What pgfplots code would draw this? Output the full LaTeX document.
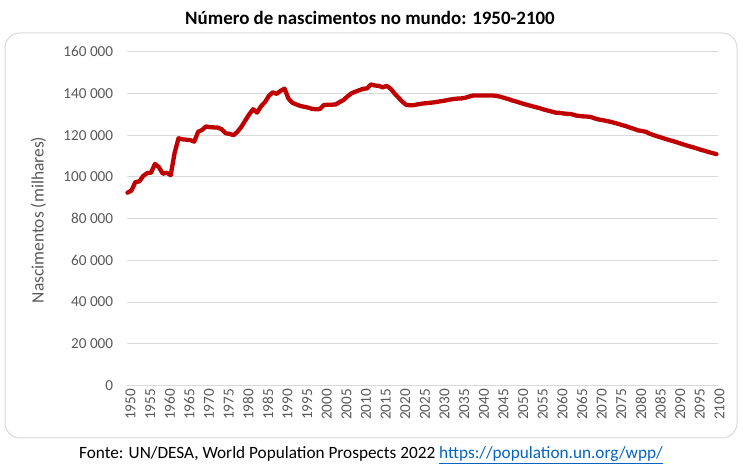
\documentclass[border=0pt]{standalone}
\usepackage{pgfplots}
\pgfplotsset{compat=1.18}
\usepackage{fontspec}
\setmainfont{Carlito}
\definecolor{linered}{HTML}{C00000}
\definecolor{gridgray}{HTML}{D9D9D9}
\definecolor{ticktxt}{HTML}{595959}
\definecolor{linkblue}{HTML}{0563C1}
\begin{document}
\begin{tikzpicture}[x=1bp,y=1bp]
\useasboundingbox (0,0) rectangle (743,469);
\draw[gridgray, line width=1bp, rounded corners=15bp] (5,31) rectangle (737,436);
\node[font=\fontsize{19}{22}\selectfont\bfseries] at (370,451) {Número de nascimentos no mundo: 1950-2100};
\node[font=\fontsize{17.3}{20}\selectfont] at (371,14) {Fonte: UN/DESA, World Population Prospects 2022 \textcolor{linkblue}{\underline{https://population.un.org/wpp/}}};
\node[font=\fontsize{17.5}{20}\selectfont, text=ticktxt, rotate=90] at (38.5,249) {Nascimentos (milhares)};
\begin{axis}[
  at={(126.7bp,83.5bp)}, anchor=south west,
  scale only axis, width=591.3bp, height=333.8bp,
  xmin=1949.8, xmax=2100.4, ymin=0, ymax=160000,
  ytick={0,20000,40000,60000,80000,100000,120000,140000,160000},
  yticklabels={0,20 000,40 000,60 000,80 000,100 000,120 000,140 000,160 000},
  xtick={1950,1955,...,2100},
  xticklabel={\pgfmathtruncatemacro\yr{\tick}\yr},
  axis line style={draw=none},
  major tick length=0pt,
  ymajorgrids, grid style={gridgray, line width=1bp},
  ticklabel style={font=\fontsize{15.3}{18}\selectfont, text=ticktxt},
  yticklabel style={xshift=-10bp},
  xticklabel style={rotate=90, anchor=east, yshift=-3bp},
  scaled y ticks=false,
  clip=false,
]
\addplot[linered, line width=4.3bp, line join=round, line cap=round] table[y expr=\thisrowno{1}*1000] {
1950 92.4
1951 93.4
1952 97.5
1953 97.8
1954 100.4
1955 101.8
1956 102.0
1957 106.2
1958 104.6
1959 101.5
1960 102.0
1961 100.8
1962 111.5
1963 118.5
1964 118.0
1965 117.8
1966 117.6
1967 116.9
1968 121.6
1969 122.5
1970 124.2
1971 123.8
1972 123.7
1973 123.6
1974 122.8
1975 120.9
1976 120.6
1977 120.0
1978 121.6
1979 124.0
1980 127.0
1981 130.0
1982 132.4
1983 130.8
1984 133.8
1985 135.8
1986 138.8
1987 140.5
1988 139.8
1989 141.2
1990 142.3
1991 137.5
1992 135.5
1993 134.7
1994 134.0
1995 133.6
1996 133.2
1997 132.6
1998 132.4
1999 132.5
2000 134.4
2001 134.6
2002 134.6
2003 134.7
2004 135.8
2005 136.8
2006 138.5
2007 140.0
2008 140.8
2009 141.5
2010 142.2
2011 142.4
2012 144.3
2013 143.8
2014 143.6
2015 142.9
2016 143.6
2017 142.3
2018 140.0
2019 138.0
2020 136.0
2021 134.5
2022 134.3
2023 134.4
2024 134.8
2025 135.1
2026 135.3
2027 135.5
2028 135.7
2029 136.0
2030 136.3
2031 136.6
2032 137.0
2033 137.3
2034 137.5
2035 137.6
2036 137.9
2037 138.5
2038 139.0
2039 139.0
2040 139.0
2041 139.0
2042 139.0
2043 139.0
2044 138.8
2045 138.4
2046 137.8
2047 137.3
2048 136.6
2049 136.1
2050 135.5
2051 134.9
2052 134.4
2053 133.9
2054 133.4
2055 132.9
2056 132.3
2057 131.8
2058 131.3
2059 130.8
2060 130.7
2061 130.4
2062 130.2
2063 130.1
2064 129.5
2065 129.2
2066 129.0
2067 128.9
2068 128.7
2069 128.0
2070 127.5
2071 127.2
2072 126.8
2073 126.4
2074 125.9
2075 125.4
2076 124.8
2077 124.3
2078 123.6
2079 123.0
2080 122.3
2081 122.0
2082 121.6
2083 120.7
2084 120.0
2085 119.4
2086 118.8
2087 118.2
2088 117.6
2089 117.1
2090 116.5
2091 115.9
2092 115.3
2093 114.7
2094 114.2
2095 113.6
2096 113.0
2097 112.5
2098 111.9
2099 111.4
2100 110.9
};
\end{axis}
\end{tikzpicture}
\end{document}
